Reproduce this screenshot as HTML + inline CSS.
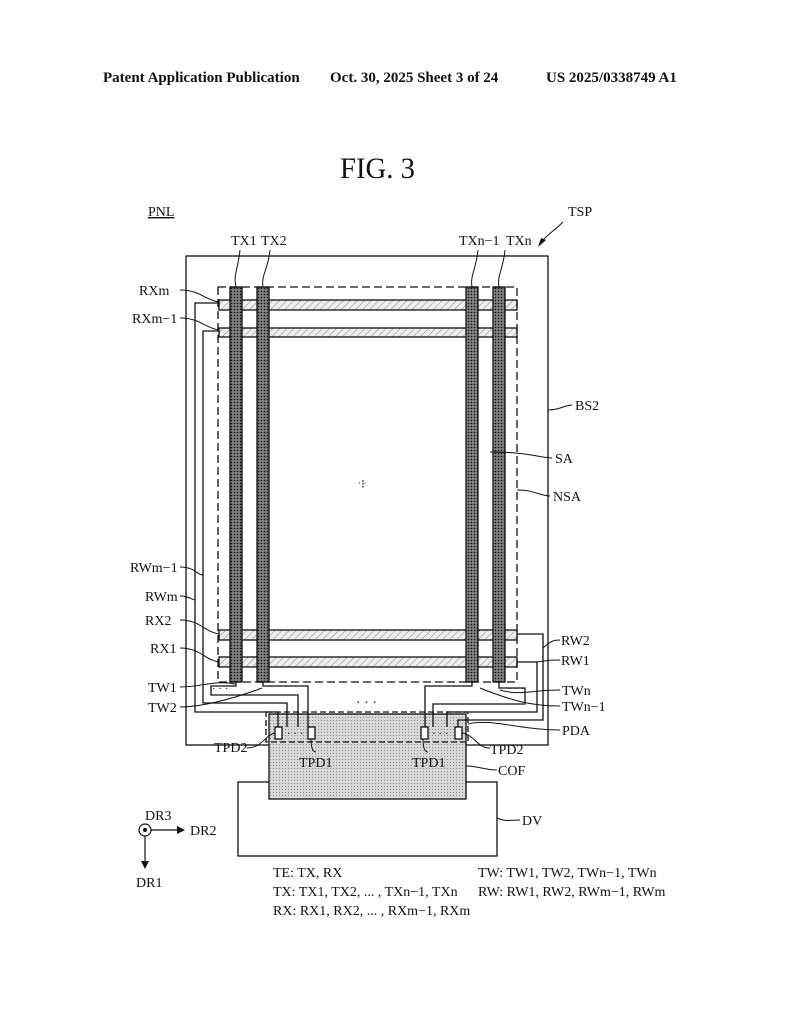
<!DOCTYPE html>
<html><head><style>
html,body{margin:0;padding:0;background:#fff;}
svg{display:block;}
text{font-family:"Liberation Serif",serif;fill:#111;}
</style></head><body>
<svg width="794" height="1024" viewBox="0 0 794 1024" xmlns="http://www.w3.org/2000/svg">
<defs>
<pattern id="hat" width="5" height="5" patternUnits="userSpaceOnUse" patternTransform="rotate(45)">
<rect width="5" height="5" fill="#eee"/><line x1="0" y1="0" x2="0" y2="5" stroke="#888" stroke-width="1"/></pattern>
<pattern id="dots" width="3" height="3" patternUnits="userSpaceOnUse">
<rect width="3" height="3" fill="#6a6a6a"/><rect width="1" height="1" fill="#111"/><rect x="1.5" y="1.5" width="1" height="1" fill="#ccc"/></pattern>
<pattern id="cof" width="3" height="3" patternUnits="userSpaceOnUse">
<rect width="3" height="3" fill="#d8d8d8"/><rect width="1" height="1" fill="#888"/></pattern>
</defs>
<g font-weight="bold" font-size="15">
<text x="103" y="82">Patent Application Publication</text>
<text x="330" y="82">Oct. 30, 2025  Sheet 3 of 24</text>
<text x="546" y="82">US 2025/0338749 A1</text>
</g>
<text x="340" y="178" font-size="30" textLength="75" lengthAdjust="spacingAndGlyphs">FIG. 3</text>
<g fill="none" stroke="#111" stroke-width="1.3">
<rect x="186" y="256" width="362" height="489"/>
<rect x="219" y="300" width="298" height="10" fill="url(#hat)"/>
<rect x="219" y="328" width="298" height="9" fill="url(#hat)"/>
<rect x="219" y="630" width="298" height="10" fill="url(#hat)"/>
<rect x="219" y="657" width="298" height="10" fill="url(#hat)"/>
<rect x="230" y="287" width="12" height="395" fill="url(#dots)"/>
<rect x="257" y="287" width="12" height="395" fill="url(#dots)"/>
<rect x="466" y="287" width="12" height="395" fill="url(#dots)"/>
<rect x="493" y="287" width="12" height="395" fill="url(#dots)"/>
<rect x="218" y="287" width="299" height="395" stroke-dasharray="8,4"/>
<rect x="238" y="782" width="259" height="74" fill="#fff"/>
<rect x="269" y="714" width="197" height="85" fill="url(#cof)"/>
<rect x="266" y="712" width="202" height="30" stroke-dasharray="6,3"/>
<rect x="275" y="727" width="7" height="12" fill="#fff"/>
<rect x="308" y="727" width="7" height="12" fill="#fff"/>
<rect x="421" y="727" width="7" height="12" fill="#fff"/>
<rect x="455" y="727" width="7" height="12" fill="#fff"/>
<polyline points="219,303 195,303 195,712 278,712 278,727"/>
<polyline points="219,331 203,331 203,703 287,703 287,727"/>
<polyline points="236,682 236,686 211,686 211,695 298,695 298,727"/>
<polyline points="263,682 263,686 308,686 308,727"/>
<polyline points="517,634 543,634 543,720 458,720 458,727"/>
<polyline points="517,662 537,662 537,712 447,712 447,727"/>
<polyline points="472,682 472,686 425,686 425,727"/>
<polyline points="499,682 499,688 525,688 525,704 433,704 433,727"/>
</g>
<g fill="none" stroke="#111" stroke-width="1">
<path d="M240,250 C238,270 233,275 236,287"/>
<path d="M270,250 C268,270 261,275 263,287"/>
<path d="M478,250 C476,270 470,275 472,287"/>
<path d="M505,250 C503,270 497,275 499,287"/>
<path d="M180,290 C200,290 205,300 219,302"/>
<path d="M180,318 C200,318 205,328 219,330"/>
<path d="M180,567 C195,567 197,575 203,575"/>
<path d="M180,596 C190,596 192,600 195,600"/>
<path d="M180,620 C200,620 205,632 219,634"/>
<path d="M180,648 C200,648 205,660 219,662"/>
<path d="M180,687 C200,687 215,680 235,684"/>
<path d="M180,707 C200,707 230,700 262,688"/>
<path d="M548,410 C560,410 565,405 572,405"/>
<path d="M490,452 C530,452 540,458 552,458"/>
<path d="M517,490 C535,490 540,496 550,496"/>
<path d="M543,648 C552,640 555,640 560,640"/>
<path d="M537,662 C550,660 552,660 560,660"/>
<path d="M500,690 C520,696 530,690 560,690"/>
<path d="M480,688 C510,700 530,706 560,706"/>
<path d="M468,724 C490,718 520,730 560,730"/>
<path d="M275,733 C265,735 262,748 247,748"/>
<path d="M311,739 C311,748 313,752 316,752"/>
<path d="M423,739 C423,748 425,752 428,752"/>
<path d="M462,733 C475,735 477,748 490,748"/>
<path d="M466,766 C478,766 485,770 497,770"/>
<path d="M497,818 C505,822 510,820 520,820"/>
<path d="M563,222 C553,232 545,236 540,244"/>
</g>
<polygon points="538,247 546,240 541,238" fill="#111"/>
<g font-size="14">
<text x="148" y="216" text-decoration="underline">PNL</text>
<text x="568" y="216">TSP</text>
<text x="231" y="245">TX1</text>
<text x="261" y="245">TX2</text>
<text x="459" y="245">TXn−1</text>
<text x="506" y="245">TXn</text>
<text x="139" y="295">RXm</text>
<text x="132" y="323">RXm−1</text>
<text x="130" y="572">RWm−1</text>
<text x="145" y="601">RWm</text>
<text x="145" y="625">RX2</text>
<text x="150" y="653">RX1</text>
<text x="148" y="692">TW1</text>
<text x="148" y="712">TW2</text>
<text x="575" y="410">BS2</text>
<text x="555" y="463">SA</text>
<text x="553" y="501">NSA</text>
<text x="561" y="645">RW2</text>
<text x="561" y="665">RW1</text>
<text x="562" y="695">TWn</text>
<text x="562" y="711">TWn−1</text>
<text x="562" y="735">PDA</text>
<text x="214" y="752">TPD2</text>
<text x="299" y="767">TPD1</text>
<text x="412" y="767">TPD1</text>
<text x="490" y="754">TPD2</text>
<text x="498" y="775">COF</text>
<text x="522" y="825">DV</text>
<text x="145" y="820">DR3</text>
<text x="190" y="835">DR2</text>
<text x="136" y="887">DR1</text>
<text x="273" y="877">TE: TX, RX</text>
<text x="273" y="896">TX: TX1, TX2, ... , TXn−1, TXn</text>
<text x="273" y="915">RX: RX1, RX2, ... , RXm−1, RXm</text>
<text x="478" y="877">TW: TW1, TW2, TWn−1, TWn</text>
<text x="478" y="896">RW: RW1, RW2, RWm−1, RWm</text>
<text x="356" y="707">· · ·</text>
<text x="212" y="692" font-size="11">· · ·</text>
<text x="508" y="692" font-size="11">· · ·</text>
<text x="287" y="737" font-size="11">· · ·</text>
<text x="432" y="737" font-size="11">· · ·</text>
</g>
<text x="361" y="488" font-size="12">⁝</text>
<text x="358" y="486" font-size="9">·  ·</text>
<circle cx="145" cy="830" r="6" fill="none" stroke="#111" stroke-width="1.2"/>
<circle cx="145" cy="830" r="2" fill="#111"/>
<line x1="151" y1="830" x2="178" y2="830" stroke="#111" stroke-width="1.2"/>
<polygon points="185,830 177,826 177,834" fill="#111"/>
<line x1="145" y1="836" x2="145" y2="862" stroke="#111" stroke-width="1.2"/>
<polygon points="145,869 141,861 149,861" fill="#111"/>
</svg>
</body></html>
